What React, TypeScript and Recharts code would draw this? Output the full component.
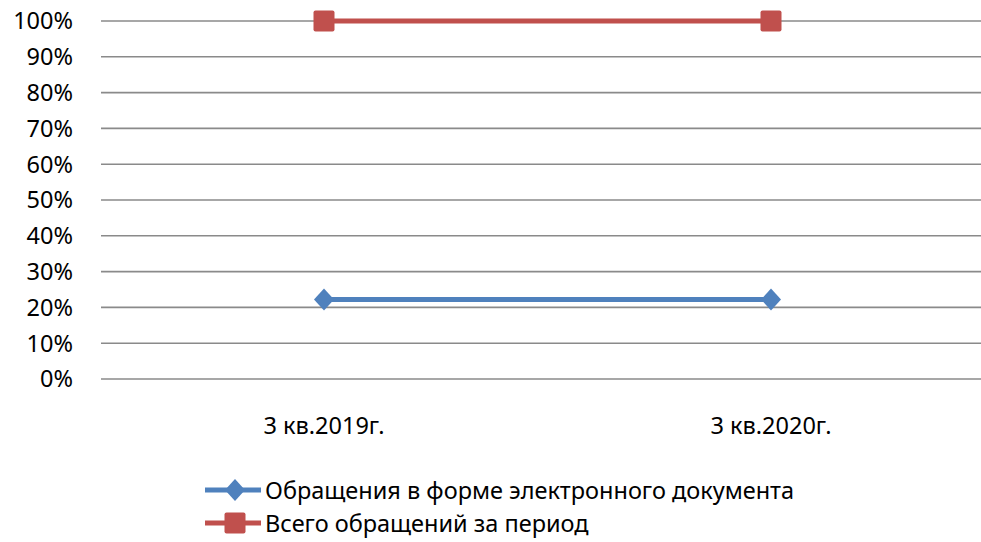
import React from "react";
import { LineChart, Line, XAxis, YAxis, CartesianGrid } from "recharts";

const categories = ["3 кв.2019г.", "3 кв.2020г."];
const electronic = [0.222, 0.222];
const total = [1.0, 1.0];
const yTicks = [0, 0.1, 0.2, 0.3, 0.4, 0.5, 0.6, 0.7, 0.8, 0.9, 1.0];

const seriesNames = ["Обращения в форме электронного документа", "Всего обращений за период"];
const BLUE = "#4f81bd";
const RED = "#c0504d";
const FONT = "'Noto Sans', sans-serif";
const FS = 23.5;

const data = categories.map((c, i) => ({
  name: c,
  electronic: electronic[i],
  total: total[i],
}));

const Diamond = (props: any) => {
  const { cx, cy } = props;
  if (cx == null || cy == null) return null;
  return (
    <polygon
      points={`${cx},${cy - 11} ${cx + 10},${cy} ${cx},${cy + 11} ${cx - 10},${cy}`}
      fill={BLUE}
    />
  );
};

const Square = (props: any) => {
  const { cx, cy } = props;
  if (cx == null || cy == null) return null;
  return <rect x={cx - 10.5} y={cy - 10.5} width={21} height={21} rx={2} fill={RED} />;
};

function LegendIcon({ color, diamond }: { color: string; diamond: boolean }) {
  return (
    <svg width={60} height={24} style={{ display: "block" }}>
      <line x1={2} y1={12} x2={58} y2={12} stroke={color} strokeWidth={5} />
      {diamond ? (
        <polygon points="32,1 42,12 32,23 22,12" fill={color} />
      ) : (
        <rect x={21.5} y={1.5} width={21} height={21} rx={2} fill={color} />
      )}
    </svg>
  );
}

export default function App() {
  return (
    <div
      style={{
        position: "absolute",
        left: 0,
        top: 0,
        width: 981,
        height: 542,
        overflow: "hidden",
        background: "#fff",
        fontFamily: FONT,
      }}
    >
      <LineChart
        width={1000}
        height={542}
        data={data}
        margin={{ top: 21, right: 7, left: 0, bottom: 112 }}
      >
        <CartesianGrid vertical={false} stroke="#8a8a8a" strokeWidth={1.6} />
        <XAxis
          dataKey="name"
          axisLine={false}
          tickLine={false}
          height={51}
          tickMargin={32}
          padding={{ left: 223, right: 222 }}
          tick={{ fill: "#000", fontSize: FS, fontFamily: FONT }}
        />
        <YAxis
          width={101}
          domain={[0, 1]}
          ticks={yTicks}
          axisLine={false}
          tickLine={false}
          tickMargin={22}
          interval={0}
          tickFormatter={(v: number) => `${Math.round(v * 100)}%`}
          tick={{ fill: "#000", fontSize: FS, fontFamily: FONT }}
        />
        <Line
          dataKey="electronic"
          name={seriesNames[0]}
          stroke={BLUE}
          strokeWidth={5}
          dot={<Diamond />}
          activeDot={false}
          isAnimationActive={false}
        />
        <Line
          dataKey="total"
          name={seriesNames[1]}
          stroke={RED}
          strokeWidth={5}
          dot={<Square />}
          activeDot={false}
          isAnimationActive={false}
        />
      </LineChart>
      <div style={{ position: "absolute", left: 203, top: 473, fontSize: FS, color: "#000" }}>
        {seriesNames.map((n, i) => (
          <div key={n} style={{ display: "flex", alignItems: "center", height: 33 }}>
            <LegendIcon color={i === 0 ? BLUE : RED} diamond={i === 0} />
            <span style={{ marginLeft: 2, lineHeight: "24px" }}>{n}</span>
          </div>
        ))}
      </div>
    </div>
  );
}
